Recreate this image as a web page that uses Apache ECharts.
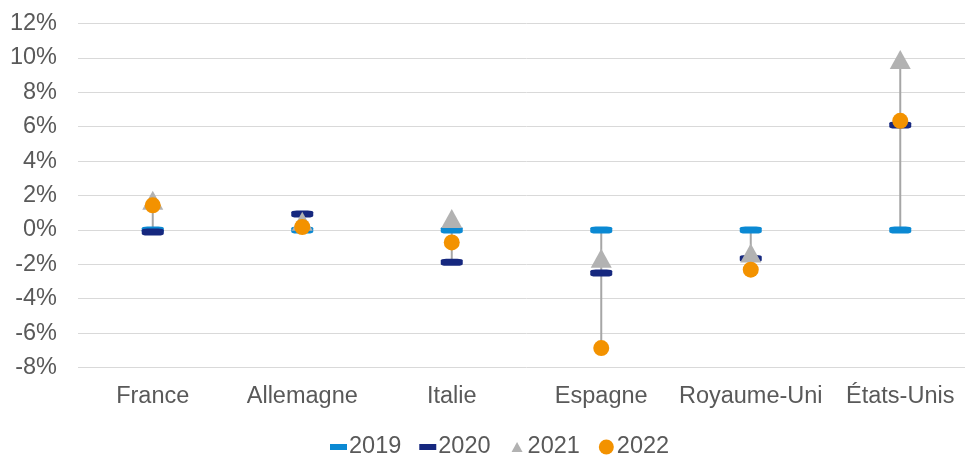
<!DOCTYPE html>
<html><head><meta charset="utf-8">
<script src="https://cdn.jsdelivr.net/npm/echarts@6/dist/echarts.min.js"></script>
<style>html,body{margin:0;padding:0;background:#fff;overflow:hidden}#c{width:975px;height:456px}</style>
</head><body><div id="c"></div>
<script>
var categories = ['France', 'Allemagne', 'Italie', 'Espagne', 'Royaume-Uni', 'États-Unis'];
var v2019 = [0, 0, 0, 0, 0, 0];
var v2020 = [-0.12, 0.93, -1.88, -2.5, -1.67, 6.1];
var v2021 = [1.73, 0.5, 0.66, -1.65, -1.34, 9.9];
var v2022 = [1.43, 0.17, -0.73, -6.87, -2.31, 6.34];
var yTicks = {min: -8, max: 12, interval: 2};

var ranges = categories.map(function (c, i) {
  var vals = [v2019[i], v2020[i], v2021[i], v2022[i]];
  return [i, Math.min.apply(null, vals), Math.max.apply(null, vals)];
});

var txt = '#595959';
var fs = 23.5;
var dashIcon = 'path://M0,0 M0,4.5 L17,4.5 L17,10.5 L0,10.5 Z M17,15';
var triIcon = 'path://M0,0 M8.5,2.5 L14,12.5 L3,12.5 Z M17,15';
var circIcon = 'path://M0,0 M17,15 M1,7.5 A7.5,7.5 0 1 1 16,7.5 A7.5,7.5 0 1 1 1,7.5 Z';

var chart = echarts.init(document.getElementById('c'), null, {renderer: 'canvas'});
chart.setOption({
  animation: false,
  grid: {left: 78, top: 23.5, width: 897, height: 344, containLabel: false},
  xAxis: {
    type: 'category', data: categories,
    axisLine: {show: false}, axisTick: {show: false},
    axisLabel: {color: txt, fontSize: fs, fontFamily: 'Liberation Sans', margin: 17, interval: 0}
  },
  yAxis: {
    type: 'value', min: yTicks.min, max: yTicks.max, interval: yTicks.interval,
    axisLine: {show: false}, axisTick: {show: false},
    splitLine: {lineStyle: {color: '#D9D9D9', width: 1}},
    axisLabel: {color: txt, fontSize: fs, fontFamily: 'Liberation Sans', margin: 21, formatter: '{value}%'}
  },
  legend: {
    left: 325, top: 430, itemWidth: 17, itemHeight: 15, itemGap: 18,
    textStyle: {color: txt, fontSize: fs, fontFamily: 'Liberation Sans', padding: [0, 0, 0, -3]},
    data: [
      {name: '2019', icon: dashIcon},
      {name: '2020', icon: dashIcon},
      {name: '2021', icon: triIcon},
      {name: '2022', icon: circIcon}
    ]
  },
  series: [
    {
      type: 'custom', name: 'range', silent: true, z: 1,
      data: ranges,
      renderItem: function (params, api) {
        var p1 = api.coord([api.value(0), api.value(1)]);
        var p2 = api.coord([api.value(0), api.value(2)]);
        return {type: 'line', shape: {x1: p1[0], y1: p1[1], x2: p2[0], y2: p2[1]},
          style: {stroke: '#A6A6A6', lineWidth: 2}};
      }
    },
    {type: 'scatter', name: '2019', z: 2, data: v2019, symbol: 'roundRect', symbolSize: [22, 7], itemStyle: {color: '#0B89D3', opacity: 1}},
    {type: 'scatter', name: '2020', z: 3, data: v2020, symbol: 'roundRect', symbolSize: [22, 7], itemStyle: {color: '#16287F', opacity: 1}},
    {type: 'scatter', name: '2021', z: 4, data: v2021, symbol: 'triangle', symbolSize: [21, 19], itemStyle: {color: '#B2B2B2', opacity: 1}},
    {type: 'scatter', name: '2022', z: 5, data: v2022, symbol: 'circle', symbolSize: 16, itemStyle: {color: '#F39200', opacity: 1}}
  ]
});
</script></body></html>
